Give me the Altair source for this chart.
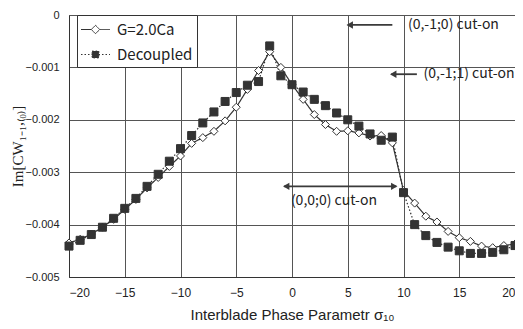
import altair as alt
import pandas as pd

# ---------------- data ----------------
sigma = list(range(-20, 21))
g20ca = [-0.00435, -0.00428, -0.00418, -0.00405, -0.00390, -0.00371, -0.00352, -0.00330, -0.00310, -0.00289,
         -0.00269, -0.00245, -0.00234, -0.00222, -0.00202, -0.00176, -0.00142, -0.00106, -0.00070, -0.00100,
         -0.00133, -0.00161, -0.00190, -0.00209, -0.00222, -0.00221, -0.00225, -0.00231, -0.00230, -0.00244,
         -0.00335, -0.00359, -0.00384, -0.00395, -0.00413, -0.00425, -0.00432, -0.00441, -0.00444, -0.00440, -0.00437]
decoupled = [-0.00441, -0.00430, -0.00419, -0.00405, -0.00388, -0.00369, -0.00350, -0.00327, -0.00304, -0.00279,
             -0.00255, -0.00230, -0.00206, -0.00185, -0.00165, -0.00148, -0.00134, -0.00127, -0.00059, -0.00116,
             -0.00133, -0.00147, -0.00161, -0.00173, -0.00187, -0.00200, -0.00212, -0.00227, -0.00239, -0.00233,
             -0.00339, -0.00400, -0.00421, -0.00434, -0.00443, -0.00450, -0.00455, -0.00455, -0.00453, -0.00448, -0.00440]
series_names = ["G=2.0Ca", "Decoupled"]

x_ticks = [-20, -15, -10, -5, 0, 5, 10, 15, 20]
y_ticks = [-0.005, -0.004, -0.003, -0.002, -0.001, 0]

# annotations (data coordinates)
ann_text = ["(0,-1;0) cut-on", "(0,-1;1) cut-on", "(0,0;0) cut-on"]
ann_text_x = [10.4, 11.8, -0.1]
ann_text_y = [-0.00019, -0.00113, -0.00355]
arrow_tail = [9.0, 11.2, -0.7]
arrow_tip = [5.0, 8.9, 9.35]
arrow_y = [-0.00019, -0.00113, -0.00327]
head_x = [5.0, 8.9, -0.7, 9.35]
head_y = [-0.00019, -0.00113, -0.00327, -0.00327]
head_dir = ["left", "left", "left", "right"]

# ---------------- tables ----------------
df = pd.DataFrame({
    "sigma": sigma * 2,
    "value": g20ca + decoupled,
    "series": [series_names[0]] * len(sigma) + [series_names[1]] * len(sigma),
})
ann_df = pd.DataFrame({"text": ann_text, "x": ann_text_x, "y": ann_text_y})
arrow_df = pd.DataFrame({"x": arrow_tail, "x2": arrow_tip, "y": arrow_y})
head_df = pd.DataFrame({"x": head_x, "y": head_y, "dir": head_dir})

FONT = "Noto Sans CJK JP"
TICKFONT = "Liberation Sans"
INK = "#333333"
W, H = 446, 262

xscale = alt.Scale(domain=[-20, 20], nice=False, zero=False)
yscale = alt.Scale(domain=[-0.005, 0], nice=False, zero=False)

x_enc = alt.X("sigma:Q", scale=xscale,
              axis=alt.Axis(values=x_ticks, title="Interblade Phase Parametr   σ₁₀",
                            titleFont="Liberation Sans", titleFontSize=15, titleFontWeight="normal",
                            titlePadding=9, labelPadding=10, labelFont=TICKFONT, labelFontSize=12))
y_enc = alt.Y("value:Q", scale=yscale,
              axis=alt.Axis(values=y_ticks, format=".3~f", title="Im[CW₁₋₁,₍₀₎]",
                            titleFont="Liberation Serif", titleFontSize=15, titleFontWeight="normal",
                            titleX=-52, titleY=H / 2, titleAlign="center", titleBaseline="middle",
                            labelPadding=10, labelFont=TICKFONT, labelFontSize=11))

lines = alt.Chart(df).mark_line(color=INK, strokeWidth=1.2).encode(
    x=x_enc, y=y_enc,
    strokeDash=alt.StrokeDash("series:N", scale=alt.Scale(domain=series_names, range=[[1, 0], [1.5, 2]]),
                              legend=None),
)

points = alt.Chart(df).mark_point(size=64, strokeWidth=1, stroke=INK, opacity=1, filled=False).encode(
    x="sigma:Q", y="value:Q",
    shape=alt.Shape("series:N", scale=alt.Scale(domain=series_names, range=["diamond", "square"]),
                    legend=None),
    fill=alt.Fill("series:N", scale=alt.Scale(domain=series_names, range=["white", INK]), legend=None),
)

# legend-only layer (no marks drawn): line + marker symbols
legend_shape_g = "M-1.45,0H-0.42M0.42,0H1.45M-0.42,0L0,-0.42L0.42,0L0,0.42Z"
legend_shape_d = "M-1.45,0H1.45M-0.34,-0.34H0.34V0.34H-0.34Z"


def make_legend():
    return alt.Legend(
        title=None, orient="none", legendX=8, legendY=0, direction="vertical",
        strokeColor=INK, fillColor="white", padding=4,
        symbolSize=400, symbolOffset=4, labelOffset=11, rowPadding=6,
        symbolStrokeWidth=1,
        labelFont=FONT, labelFontSize=15, labelColor="#222",
    )


legend_layer = alt.Chart(df).transform_filter("false").mark_point(
    size=400, strokeWidth=1, stroke=INK, opacity=1, filled=False).encode(
    x="sigma:Q", y="value:Q",
    shape=alt.Shape("series:N", scale=alt.Scale(domain=series_names, range=[legend_shape_g, legend_shape_d]),
                    legend=make_legend()),
    fill=alt.Fill("series:N", scale=alt.Scale(domain=series_names, range=["white", INK]),
                  legend=make_legend()),
    strokeDash=alt.StrokeDash("series:N", scale=alt.Scale(domain=series_names, range=[[1, 0], [1.5, 2]]),
                              legend=make_legend()),
)

rules = alt.Chart(arrow_df).mark_rule(color="#3a3a3a", strokeWidth=1.8).encode(
    x="x:Q", x2="x2:Q", y="y:Q")

heads_left = alt.Chart(head_df).transform_filter("datum.dir == 'left'").mark_point(
    shape="triangle-left", size=55, filled=True, color="#3a3a3a", opacity=1, xOffset=2).encode(
    x="x:Q", y="y:Q")
heads_right = alt.Chart(head_df).transform_filter("datum.dir == 'right'").mark_point(
    shape="triangle-right", size=55, filled=True, color="#3a3a3a", opacity=1, xOffset=-2).encode(
    x="x:Q", y="y:Q")

texts = alt.Chart(ann_df).mark_text(align="left", baseline="middle", font=FONT, fontSize=14,
                                    color="#222").encode(x="x:Q", y="y:Q", text="text:N")

chart = alt.layer(lines, points, legend_layer, rules, heads_left, heads_right, texts).resolve_scale(
    shape="independent", fill="independent", strokeDash="independent"
).properties(
    width=W, height=H,
    padding={"left": 61, "top": 7, "right": 0, "bottom": 44},
    autosize="none",
).configure_view(stroke="#999999", strokeWidth=1).configure_axis(
    domainColor=INK, gridColor="#555555", gridWidth=1, ticks=False,
    labelColor="#222", titleColor="#222",
)

chart.save("out.html", embed_options={"renderer": "svg", "actions": False})
